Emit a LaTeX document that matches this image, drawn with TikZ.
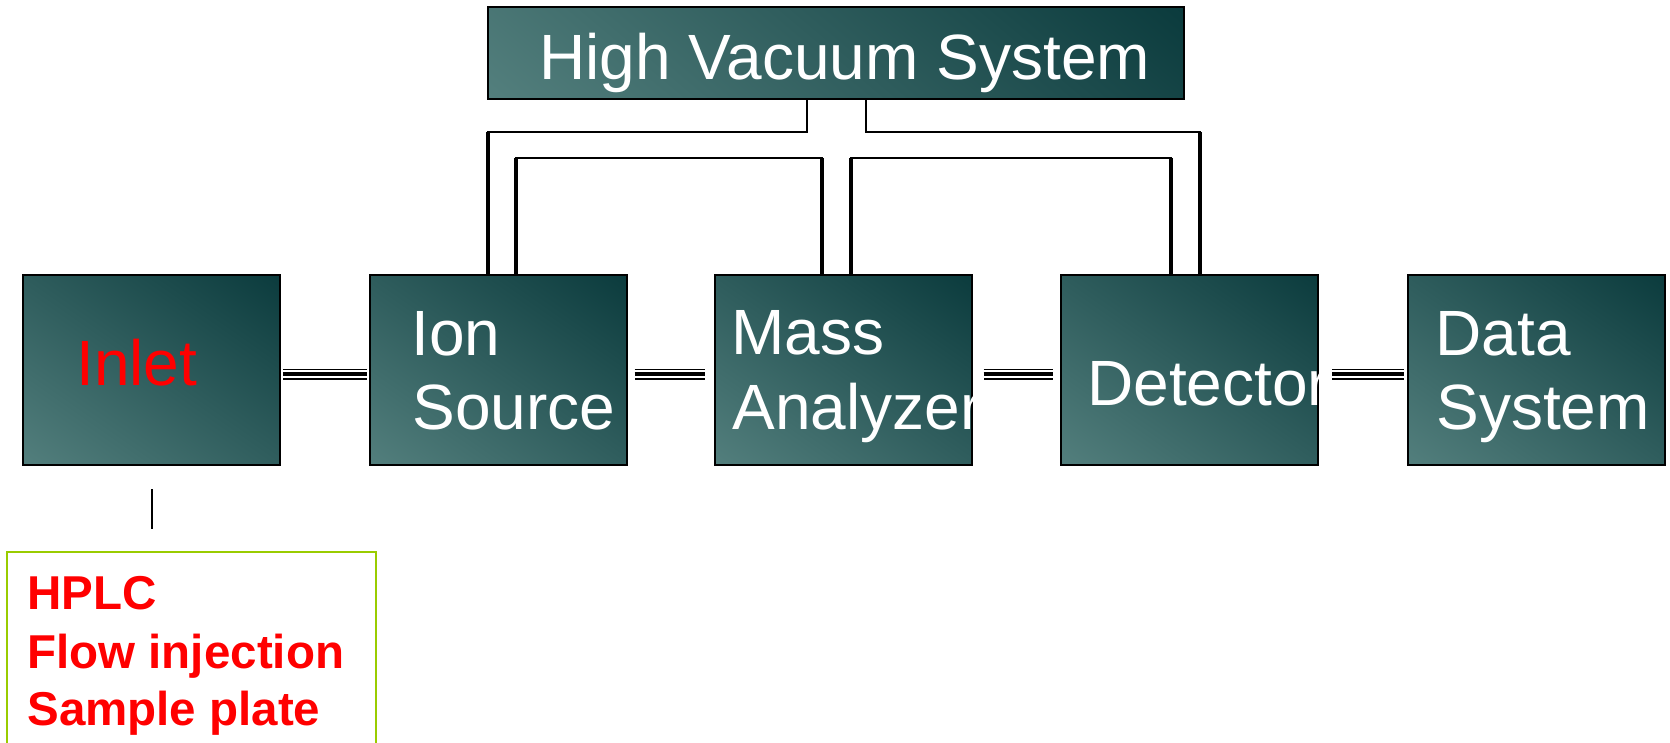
\documentclass[tikz,border=0pt]{standalone}
\usepackage{fontspec}
\setmainfont{Liberation Sans}
\definecolor{boxdark}{HTML}{0B3B3D}
\definecolor{boxlight}{HTML}{537F7D}
\definecolor{srcgreen}{HTML}{99CC00}
\pgfdeclareverticalshading{boxshade}{100bp}{color(0bp)=(boxlight); color(15bp)=(boxlight); color(85bp)=(boxdark); color(100bp)=(boxdark)}
\begin{document}
\begin{tikzpicture}[x=0.5pt,y=-0.5pt,
  box/.style={draw=black, line width=1pt, rectangle, inner sep=0pt,
    minimum width=128.5pt, minimum height=95pt,
    shading=boxshade, shading angle=-35},
  lbl/.style={text=white, font=\fontsize{32}{38}\selectfont, anchor=base west, inner sep=0pt},
  srct/.style={text=red, font=\bfseries\fontsize{23.75}{28}\selectfont, anchor=base west, inner sep=0pt},
  hpipe/.style={line width=1pt, line cap=rect},
  vpipe/.style={line width=2pt},
  tripout/.style={line width=0.6pt, double=white, double distance=4.15pt},
  tripin/.style={line width=1.85pt}]
\useasboundingbox (0,0) rectangle (1670,743);
\clip (0,0) rectangle (1670,743);

% boxes
\node[box, minimum width=348pt, minimum height=45.75pt, shading angle=-40] (hvs) at (836,53.25) {};
\node[box] (inlet) at (151.5,370) {};
\node[box] (ion) at (498,370) {};
\node[box] (mass) at (843,370) {};
\node[box] (det) at (1189.5,370) {};
\node[box] (data) at (1536,370) {};
\node[draw=srcgreen, line width=1pt, rectangle, minimum width=184.5pt, minimum height=104pt] (src) at (191.5,656) {};

% labels
\node[lbl] (hvsT) at (539,80) {High Vacuum System};
\node[lbl, text=red] (inletT) at (76,385) {Inlet};
\node[lbl] (ionT1) at (411,355) {Ion};
\node[lbl] (ionT2) at (412,429) {Source};
\node[lbl] (massT1) at (731,354) {Mass};
\node[lbl] (massT2) at (732,429) {Analyzer};
\node[lbl] (detT) at (1087,405) {Detector};
\node[lbl] (dataT1) at (1435,355) {Data};
\node[lbl] (dataT2) at (1436,429) {System};
\node[srct] (s1) at (27,609) {HPLC};
\node[srct] (s2) at (27,668) {Flow injection};
\node[srct] (s3) at (27,725) {Sample plate};

% vacuum pipes
\coordinate (pA) at (807,132);
\coordinate (pAc) at (488,132);
\coordinate (pD) at (866,132);
\coordinate (pDc) at (1200,132);
\coordinate (pB1) at (516,158);
\coordinate (pB2) at (822,158);
\coordinate (pC1) at (851,158);
\coordinate (pC2) at (1171,158);

\draw[hpipe] (hvs.south -| pA) -- (pA) -- (pAc);
\draw[vpipe] (pAc) -- (ion.north -| pAc);
\draw[hpipe] (hvs.south -| pD) -- (pD) -- (pDc);
\draw[vpipe] (pDc) -- (det.north -| pDc);
\draw[vpipe] (ion.north -| pB1) -- (pB1);
\draw[hpipe] (pB1) -- (pB2);
\draw[vpipe] (pB2) -- (mass.north -| pB2);
\draw[vpipe] (mass.north -| pC1) -- (pC1);
\draw[hpipe] (pC1) -- (pC2);
\draw[vpipe] (pC2) -- (det.north -| pC2);

% triple-line links
\coordinate (tl) at (0,374.2);
\draw[tripout, shorten <=1pt, shorten >=1pt] (inlet.east |- tl) -- (ion.west |- tl);
\draw[tripin, shorten <=1pt, shorten >=1pt] (inlet.east |- tl) -- (ion.west |- tl);
\draw[tripout, shorten <=3.5pt, shorten >=4.5pt] (ion.east |- tl) -- (mass.west |- tl);
\draw[tripin, shorten <=3.5pt, shorten >=4.5pt] (ion.east |- tl) -- (mass.west |- tl);
\draw[tripout, shorten <=5.5pt, shorten >=3.5pt] (mass.east |- tl) -- (det.west |- tl);
\draw[tripin, shorten <=5.5pt, shorten >=3.5pt] (mass.east |- tl) -- (det.west |- tl);
\draw[tripout, shorten <=6.5pt, shorten >=1.5pt] (det.east |- tl) -- (data.west |- tl);
\draw[tripin, shorten <=6.5pt, shorten >=1.5pt] (det.east |- tl) -- (data.west |- tl);

% inlet to sources
\draw[line width=1pt, shorten <=11.5pt, shorten >=11pt] (inlet.south) -- (inlet.south |- src.north);
\end{tikzpicture}
\end{document}
